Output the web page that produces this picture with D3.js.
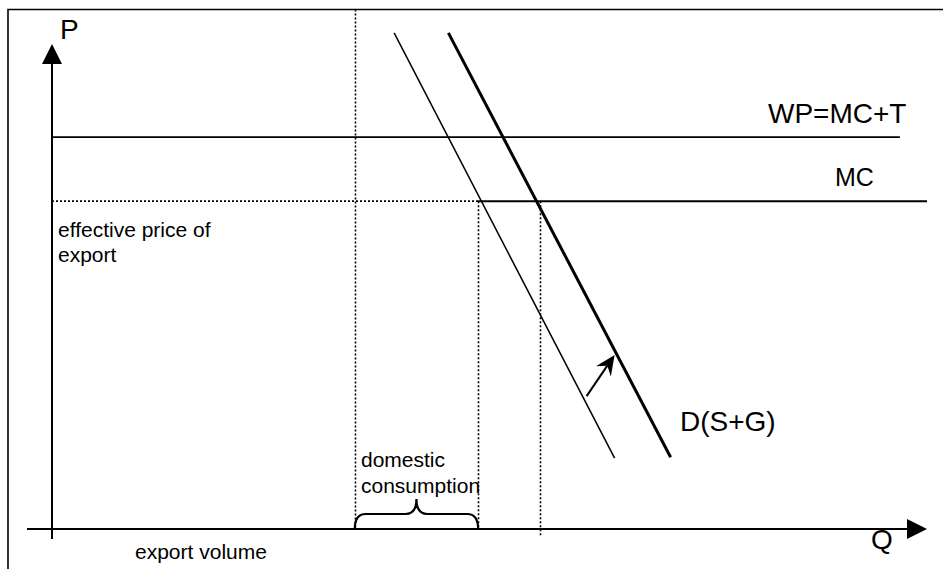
<!DOCTYPE html>
<html>
<head>
<meta charset="utf-8">
<script src="https://cdn.jsdelivr.net/npm/d3@7"></script>
<style>
  html, body { margin: 0; padding: 0; background: #fff; }
  svg { display: block; }
  text { font-family: "Liberation Sans", Arial, sans-serif; fill: #000; }
</style>
</head>
<body>
<script>
'use strict';

// Values, in chart units (Q across, P up)
const priceLevels = [
  { name: 'WP', label: 'WP=MC+T', p: 80.8, q0: 0, q1: 96.9 },
  { name: 'MC', label: 'MC',      p: 67.6, q0: 48.7, q1: 100 }
];
// dotted part of the MC line, back to the price axis
const effectiveSegment = [[0, 67.6], [48.7, 67.6]];

// demand curves: [q, p] endpoints
const demandOld = [[39.1, 102.3], [64.3, 14.6]];
const demandNew = [[45.3, 102.3], [70.7, 14.8]];
const shiftArrow = [[61.1, 27.4], [64.3, 35.9]];

// vertical dotted guides: q, top p, bottom p
const guides = [
  { q: 34.6, p0: 107.2, p1: 0 },
  { q: 48.7, p0: 67.6, p1: 0 },
  { q: 55.8, p0: 67.6, p1: -1.6 }
];
const braceRange = [34.6, 48.7];

const axisLabels = ['P', 'Q'];
const demandLabel = 'D(S+G)';
const effLabel = ['effective price of', 'export'];
const domLabel = ['domestic', 'consumption'];
const exportLabel = 'export volume';

const W = 943, H = 569;

const x = d3.scaleLinear().domain([0, 100]).range([52, 927]);
const y = d3.scaleLinear().domain([0, 100]).range([529, 44]);

const svg = d3.select('body').append('svg')
  .attr('width', W).attr('height', H)
  .attr('viewBox', `0 0 ${W} ${H}`);
svg.append('rect').attr('width', W).attr('height', H).attr('fill', '#fff');

// frame (top and left edges only show in the picture)
svg.append('path')
  .attr('d', `M8,${H} L8,9.5 L${W},9.5`)
  .attr('fill', 'none').attr('stroke', '#000').attr('stroke-width', 1.6);

const line = d3.line().x(d => x(d[0])).y(d => y(d[1]));

// dotted guides
svg.selectAll('.guide').data(guides).join('line')
  .attr('class', 'guide')
  .attr('x1', d => Math.round(x(d.q)) + 0.5).attr('x2', d => Math.round(x(d.q)) + 0.5)
  .attr('y1', d => d.p0 > 107 ? 9.5 : y(d.p0)).attr('y2', d => y(d.p1))
  .attr('stroke', '#000').attr('stroke-width', 1.6)
  .attr('stroke-dasharray', '2,2');

svg.append('path')
  .attr('d', line(effectiveSegment))
  .attr('fill', 'none').attr('stroke', '#000').attr('stroke-width', 1.6)
  .attr('stroke-dasharray', '2,2');

// price levels
svg.selectAll('.level').data(priceLevels).join('line')
  .attr('class', 'level')
  .attr('x1', d => x(d.q0)).attr('x2', d => x(d.q1))
  .attr('y1', d => y(d.p)).attr('y2', d => y(d.p))
  .attr('stroke', '#000')
  .attr('stroke-width', d => d.name === 'MC' ? 2 : 1.6);

// demand curves
svg.append('path').attr('d', line(demandOld))
  .attr('fill', 'none').attr('stroke', '#000').attr('stroke-width', 1.5);
svg.append('path').attr('d', line(demandNew))
  .attr('fill', 'none').attr('stroke', '#000').attr('stroke-width', 3);

// axes
const x0 = x(0), y0 = y(0);
svg.append('line')
  .attr('x1', x0).attr('x2', x0).attr('y1', 539).attr('y2', y(100) + 18)
  .attr('stroke', '#000').attr('stroke-width', 2);
svg.append('line')
  .attr('x1', 27).attr('x2', x(100) - 18).attr('y1', y0).attr('y2', y0)
  .attr('stroke', '#000').attr('stroke-width', 2);
const ty = y(100), tx = x(100);
svg.append('path')
  .attr('d', `M${x0},${ty} L${x0 + 10},${ty + 20} L${x0 - 10},${ty + 20} Z`);
svg.append('path')
  .attr('d', `M${tx},${y0} L${tx - 20},${y0 - 10} L${tx - 20},${y0 + 10} Z`);

// shift arrow, head drawn by hand so it matches the picture
const a0 = shiftArrow[0], a1 = shiftArrow[1];
{
  const px = x(a1[0]), py = y(a1[1]);
  const ang = Math.atan2(py - y(a0[1]), px - x(a0[0]));
  const L = 20, Wd = 9;
  const bx = px - L * Math.cos(ang), by = py - L * Math.sin(ang);
  const nx = -Math.sin(ang), ny = Math.cos(ang);
  const ix = px - 0.65 * L * Math.cos(ang), iy = py - 0.65 * L * Math.sin(ang);
  svg.append('line')
    .attr('x1', x(a0[0])).attr('y1', y(a0[1]))
    .attr('x2', ix).attr('y2', iy)
    .attr('stroke', '#000').attr('stroke-width', 2);
  svg.append('path')
    .attr('d', `M${px},${py} L${bx + nx * Wd},${by + ny * Wd} L${ix},${iy} L${bx - nx * Wd},${by - ny * Wd} Z`);
}

// brace under domestic consumption
{
  const b0 = x(braceRange[0]), b1 = x(braceRange[1]);
  const mid = (b0 + b1) / 2, yb = y0, yh = yb - 15, yt = yb - 30, r = 11;
  svg.append('path')
    .attr('d', `M${b0},${yb} Q${b0},${yh} ${b0 + r},${yh} L${mid - r},${yh} Q${mid},${yh} ${mid},${yt}` +
               ` Q${mid},${yh} ${mid + r},${yh} L${b1 - r},${yh} Q${b1},${yh} ${b1},${yb}`)
    .attr('fill', 'none').attr('stroke', '#000').attr('stroke-width', 2.2);
}

// labels
const big = 28, small = 21;
svg.append('text').attr('x', 60).attr('y', 39).attr('font-size', big).text(axisLabels[0]);
svg.append('text').attr('x', 871).attr('y', 549).attr('font-size', big).text(axisLabels[1]);
svg.append('text').attr('x', 768).attr('y', 123).attr('font-size', big).text(priceLevels[0].label);
svg.append('text').attr('x', 835).attr('y', 186).attr('font-size', 25).text(priceLevels[1].label);
svg.append('text').attr('x', 680).attr('y', 431).attr('font-size', big).text(demandLabel);

effLabel.forEach((t, i) => {
  svg.append('text').attr('x', 58).attr('y', 237 + i * 25).attr('font-size', small).text(t);
});
domLabel.forEach((t, i) => {
  svg.append('text').attr('x', 361).attr('y', 467 + i * 26).attr('font-size', small).text(t);
});
svg.append('text').attr('x', 135).attr('y', 559).attr('font-size', small).text(exportLabel);
</script>
</body>
</html>
